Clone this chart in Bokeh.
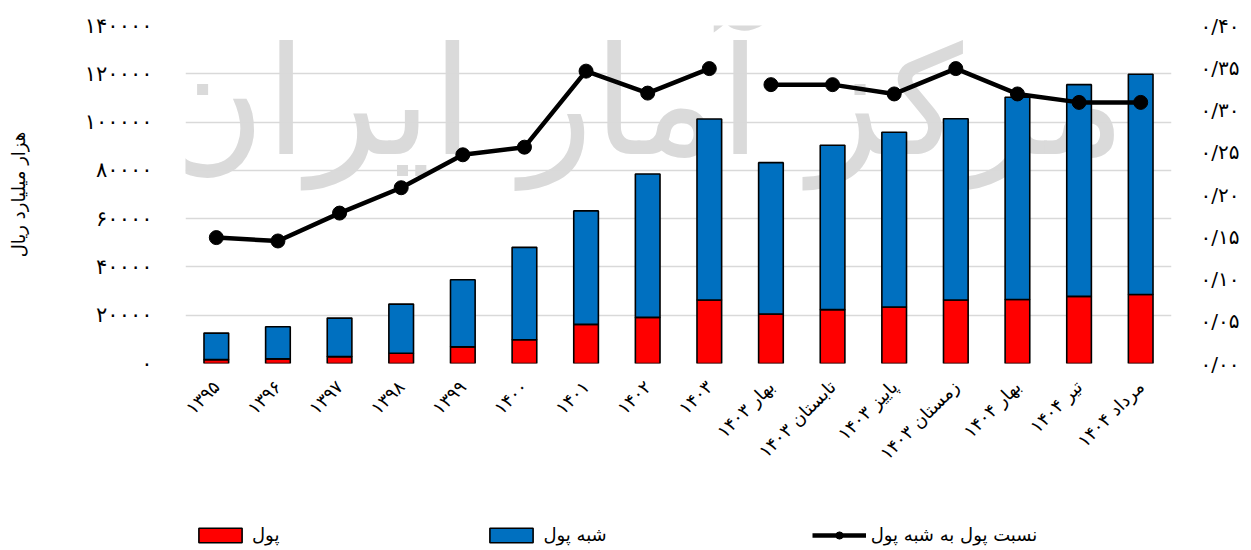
import math
from bokeh.plotting import figure
from bokeh.layouts import column
from bokeh.models import (FactorRange, Range1d, LinearAxis, FixedTicker, Legend,
                          LegendItem, Label, ColumnDataSource)
from bokeh.embed import file_html
from bokeh.resources import INLINE

# ---------------- data ----------------
categories = ["۱۳۹۵", "۱۳۹۶", "۱۳۹۷", "۱۳۹۸", "۱۳۹۹", "۱۴۰۰", "۱۴۰۱", "۱۴۰۲", "۱۴۰۳",
              "بهار ۱۴۰۳", "تابستان ۱۴۰۳", "پاییز ۱۴۰۳", "زمستان ۱۴۰۳",
              "بهار ۱۴۰۴", "تیر ۱۴۰۴", "مرداد ۱۴۰۴"]
money = [1600, 1900, 2850, 4250, 6900, 9850, 16200, 19100, 26300,
         20500, 22300, 23400, 26300, 26500, 27800, 28600]
quasi_money = [11000, 13300, 15950, 20350, 27800, 38250, 47000, 59400, 75000,
               62700, 68100, 72400, 75100, 83800, 87700, 91200]
ratio = [0.149, 0.145, 0.178, 0.208, 0.247, 0.256, 0.346, 0.320, 0.349,
         0.330, 0.330, 0.319, 0.349, 0.319, 0.309, 0.309]
# the ratio line is broken between the yearly and the periodic part
ratio_segments = [(0, 9), (9, 16)]

left_ticks = [0, 20000, 40000, 60000, 80000, 100000, 120000, 140000]
left_tick_labels = ["۰", "۲۰۰۰۰", "۴۰۰۰۰", "۶۰۰۰۰", "۸۰۰۰۰", "۱۰۰۰۰۰", "۱۲۰۰۰۰", "۱۴۰۰۰۰"]
right_ticks = [0.0, 0.05, 0.10, 0.15, 0.20, 0.25, 0.30, 0.35, 0.40]
right_tick_labels = ["۰/۰۰", "۰/۰۵", "۰/۱۰", "۰/۱۵", "۰/۲۰", "۰/۲۵", "۰/۳۰", "۰/۳۵", "۰/۴۰"]

series_names = ["پول", "شبه پول", "نسبت پول به شبه پول"]
y_title = "هزار میلیارد ریال"
watermark = "مرکز آمار ایران"

FONT = "DejaVu Sans"
RED = "#FF0000"
BLUE = "#0070C0"

# ---------------- main figure ----------------
p = figure(x_range=FactorRange(*categories, range_padding=0),
           y_range=Range1d(0, 140000),
           width=1251, height=510,
           output_backend="svg", toolbar_location=None,
           min_border_left=185, min_border_right=80,
           min_border_top=25, min_border_bottom=147)
p.extra_y_ranges = {"ratio": Range1d(0, 0.40)}
p.outline_line_color = None
p.background_fill_color = "white"
p.border_fill_color = "white"

# watermark (behind everything)
wm = Label(x=455, y=262, x_units="screen", y_units="screen", text=watermark,
           text_font=FONT, text_font_size="150px", text_color="#dadada",
           text_align="center", text_baseline="middle", level="image")
p.add_layout(wm)

src = ColumnDataSource(dict(cat=categories, money=money, quasi=quasi_money))
bars = p.vbar_stack(["money", "quasi"], x="cat", width=0.4, source=src,
                    fill_color=[RED, BLUE], line_color="black", line_width=1.6)

for a, b in ratio_segments:
    p.line(x=categories[a:b], y=ratio[a:b], y_range_name="ratio",
           line_color="black", line_width=4.5)
    p.scatter(x=categories[a:b], y=ratio[a:b], y_range_name="ratio",
              size=14, fill_color="black", line_color="black")

# ---------------- axes ----------------
p.xaxis.axis_line_color = None
p.xaxis.major_tick_line_color = None
p.xaxis.major_tick_out = 0
p.xaxis.minor_tick_line_color = None
p.xaxis.major_label_orientation = math.pi / 4
p.xaxis.major_label_text_font = FONT
p.xaxis.major_label_text_font_size = "18px"
p.xaxis.major_label_text_color = "black"
p.xaxis.major_label_standoff = 20

p.yaxis.ticker = FixedTicker(ticks=left_ticks)
p.yaxis.major_label_overrides = dict(zip(left_ticks, left_tick_labels))
p.yaxis.axis_line_color = None
p.yaxis.major_tick_line_color = None
p.yaxis.major_tick_out = 0
p.yaxis.minor_tick_line_color = None
p.yaxis.major_label_text_font = FONT
p.yaxis.major_label_text_font_size = "21px"
p.yaxis.major_label_text_color = "black"
p.yaxis.major_label_standoff = 33
p.yaxis.axis_label = y_title
p.yaxis.axis_label_text_font = FONT
p.yaxis.axis_label_text_font_size = "18px"
p.yaxis.axis_label_text_font_style = "normal"
p.yaxis.axis_label_text_color = "black"
p.yaxis.axis_label_standoff = 53

raxis = LinearAxis(y_range_name="ratio", ticker=FixedTicker(ticks=right_ticks))
raxis.major_label_overrides = dict(zip(right_ticks, right_tick_labels))
raxis.axis_line_color = None
raxis.major_tick_line_color = None
raxis.major_tick_out = 0
raxis.minor_tick_line_color = None
raxis.major_label_text_font = FONT
raxis.major_label_text_font_size = "20px"
raxis.major_label_text_color = "black"
raxis.major_label_standoff = 29
p.add_layout(raxis, "right")

p.xgrid.grid_line_color = None
p.ygrid.ticker = FixedTicker(ticks=left_ticks)
p.ygrid.grid_line_color = "#d9d9d9"
p.ygrid.grid_line_width = 1.5

# ---------------- legend strip (separate small figure) ----------------
# proxy renderers use the real data but are hidden; only their legend glyphs show
lg = figure(width=1251, height=40, x_range=p.x_range, y_range=Range1d(-2, -1),
            output_backend="svg", toolbar_location=None,
            x_axis_location=None, y_axis_location=None,
            min_border=0, outline_line_color=None)
lg.xgrid.visible = False
lg.ygrid.visible = False
r_money = lg.vbar(x="cat", top="money", width=0.4, source=src,
                  fill_color=RED, line_color="black", line_width=1.6)
r_quasi = lg.vbar(x="cat", top="quasi", width=0.4, source=src,
                  fill_color=BLUE, line_color="black", line_width=1.6)
r_line = lg.line(x=categories, y=ratio, line_color="black", line_width=4.5)
r_dot = lg.scatter(x=categories, y=ratio, size=14, fill_color="black", line_color="black")
for r in (r_money, r_quasi, r_line, r_dot):
    r.visible = False

legend = Legend(items=[LegendItem(label=series_names[0], renderers=[r_money]),
                       LegendItem(label=series_names[1], renderers=[r_quasi]),
                       LegendItem(label=series_names[2], renderers=[r_line, r_dot])],
                orientation="horizontal", location=(8, 5),
                glyph_width=54, glyph_height=18, label_height=18,
                label_standoff=5, spacing=205, padding=0, margin=0,
                border_line_color=None, background_fill_alpha=0,
                inactive_fill_alpha=0,
                label_text_font=FONT, label_text_font_size="18px",
                label_text_color="black")
lg.add_layout(legend, "center")

layout = column(p, lg, spacing=0)
open("out.html", "w").write(file_html(layout, INLINE))
